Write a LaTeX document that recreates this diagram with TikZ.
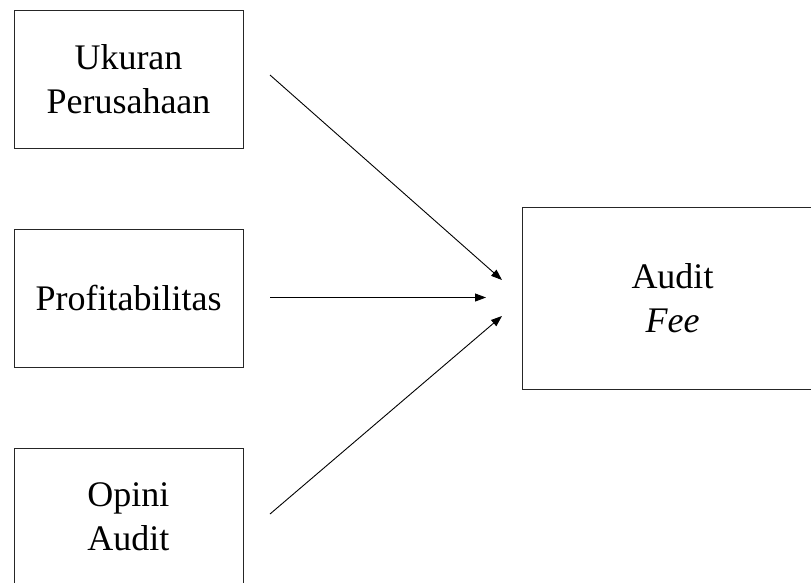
\documentclass[tikz,border=0pt]{standalone}
\usepackage{fontspec}
\setmainfont{Liberation Serif}
\usetikzlibrary{arrows.meta}
\begin{document}
\begin{tikzpicture}[x=1pt,y=1pt,
  varbox/.style={draw=black!85, line width=1pt, minimum width=229pt, minimum height=138pt,
    inner sep=0pt, align=center, font=\fontsize{36}{44}\selectfont},
  link/.style={line width=0.9pt, -{Triangle[length=11pt,width=8pt]}}]
\useasboundingbox (0,0) rectangle (811,-582);
\clip (0,0) rectangle (811,-582);
\node[varbox] (uk) at (128.5,-79) {Ukuran\\Perusahaan};
\node[varbox] (pr) at (128.5,-298) {Profitabilitas};
\node[varbox] (op) at (128.5,-517) {Opini\\Audit};
\node[varbox, minimum width=301pt, minimum height=182pt] (af) at (672.5,-298) {Audit\\\textit{Fee}};
\coordinate (s1) at (270,-75);
\coordinate (e1) at (502,-280);
\coordinate (s2) at (270,-297.5);
\coordinate (e2) at (486,-297.5);
\coordinate (s3) at (270,-514);
\coordinate (e3) at (502,-316);
\draw[link] (s1) -- (e1);
\draw[link] (s2) -- (e2);
\draw[link] (s3) -- (e3);
\end{tikzpicture}
\end{document}
